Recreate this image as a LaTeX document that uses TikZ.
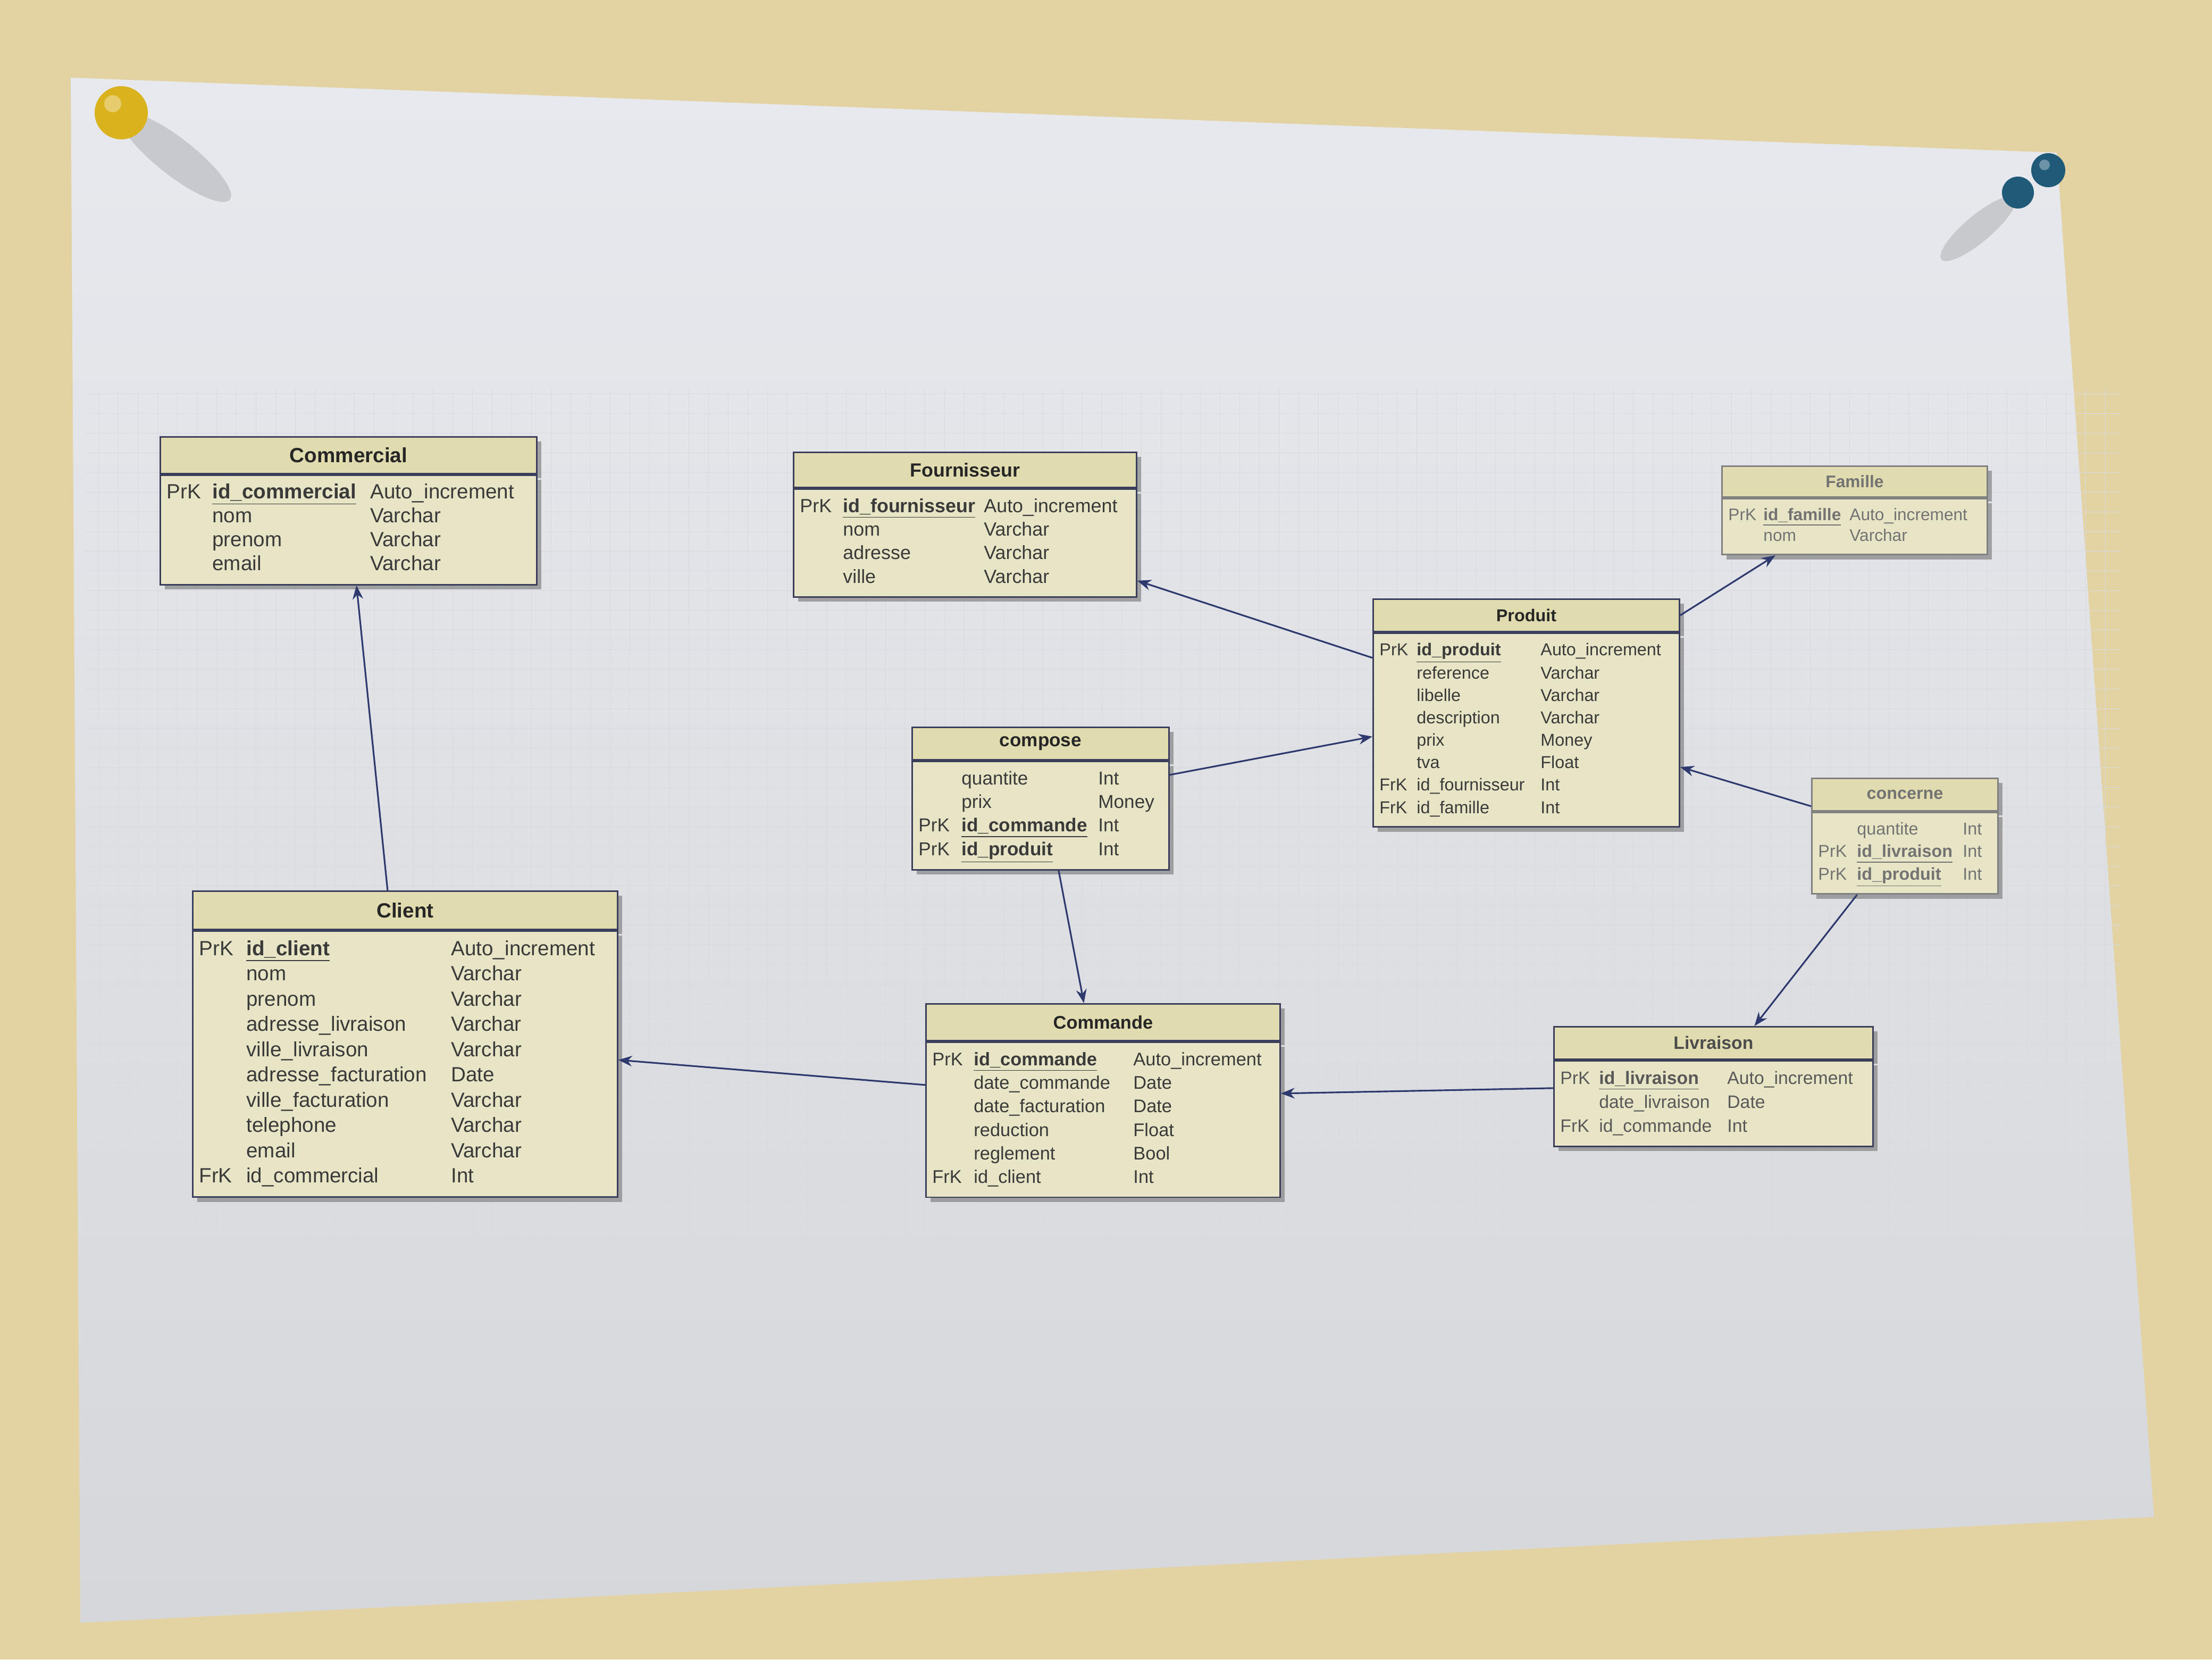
\documentclass[tikz,border=0pt]{standalone}
\usepackage{fontspec}
\setmainfont{Liberation Sans}
\usetikzlibrary{
  arrows.meta,
  positioning,
  shadows
}
\definecolor{wall}{HTML}{E3D2A2}
\definecolor{paperTop}{HTML}{E7E9EE}
\definecolor{paperBot}{HTML}{D6D7DA}
\definecolor{gridcol}{HTML}{D8DAE0}
\definecolor{erline}{HTML}{3B3F5C}
\definecolor{erfill}{HTML}{E8E5C6}
\definecolor{ertitle}{HTML}{E1DCB0}
\definecolor{ertext}{HTML}{3A3A3A}
\definecolor{relline}{HTML}{2E3A6E}
\definecolor{tackYellow}{HTML}{D9B21E}
\definecolor{tackBlue}{HTML}{1F5A78}
\newcommand{\keyname}[1]{\underline{\textbf{#1}}}
\setlength{\tabcolsep}{0pt}
\tikzset{
  erdrop/.style={drop shadow={shadow xshift=0.9mm, shadow yshift=-0.9mm, fill=black!55, opacity=0.6}},
  ttl/.style n args={3}{
    draw=erline, fill=ertitle, line width=0.8pt,
    text width=#1, align=center, inner xsep=1.2mm, inner ysep=0pt,
    minimum height=#3, anchor=north west,
    font=\fontsize{#2}{#2}\selectfont\bfseries, text=black!85, erdrop
  },
  tbody/.style n args={3}{
    draw=erline, fill=erfill, line width=0.8pt,
    text width=#1, align=left, inner xsep=1.2mm, inner ysep=1.3mm,
    font=\fontsize{#2}{#3}\selectfont, text=ertext, erdrop
  },
  faded/.style={draw=black!50, text=black!55},
  rel/.style={-{Stealth[length=2.6mm, width=2mm]}, draw=relline, line width=0.9pt},
  gridline/.style={draw=gridcol, line width=0.25pt, step=0.37},
}

\begin{document}
\begin{tikzpicture}

\useasboundingbox (0,0) rectangle (41.6,-31.2);

% wall, sheet and its grid
\fill[wall] (0,0) rectangle (41.6,-31.2);
\shade[top color=paperTop, bottom color=paperBot]
  (1.33,-1.46) -- (38.68,-2.87) -- (40.51,-28.52) -- (1.51,-30.51) -- cycle;
\begin{scope}
  \clip (1.6,-7.3) rectangle (39.9,-26.4);
  \draw[gridline] (1.6,-26.4) grid (39.9,-7.3);
\end{scope}

% tacks
\fill[black, opacity=0.13, rotate around={-38:(3.3,-2.95)}] (3.3,-2.95) ellipse (1.3 and 0.35);
\fill[tackYellow] (2.28,-2.12) circle (0.5);
\fill[white, opacity=0.35] (2.12,-1.95) circle (0.16);
\fill[black, opacity=0.13, rotate around={40:(37.2,-4.3)}] (37.2,-4.3) ellipse (0.9 and 0.25);
\fill[tackBlue] (37.95,-3.62) circle (0.3);
\fill[tackBlue] (38.52,-3.2) circle (0.32);
\fill[white, opacity=0.35] (38.45,-3.1) circle (0.1);

% tables
\node[ttl={6.84cm}{11}{0.69cm}] (commercial) at (3.00,-8.20) {Commercial};
\node[tbody={6.84cm}{11}{12.8}, below=0pt of commercial] (commercial-b) {%
  \begin{tabular}{p{0.86cm}p{2.97cm}l}
  PrK & \keyname{id\_commercial} & Auto\_increment\\
      & nom & Varchar\\
      & prenom & Varchar\\
      & email & Varchar
  \end{tabular}};

\node[ttl={6.21cm}{10.2}{0.66cm}] (fournisseur) at (14.91,-8.49) {Fournisseur};
\node[tbody={6.21cm}{10.2}{12.6}, below=0pt of fournisseur] (fournisseur-b) {%
  \begin{tabular}{p{0.81cm}p{2.65cm}l}
  PrK & \keyname{id\_fournisseur} & Auto\_increment\\
      & nom & Varchar\\
      & adresse & Varchar\\
      & ville & Varchar
  \end{tabular}};

\node[ttl={4.75cm}{9}{0.58cm}, faded] (famille) at (32.37,-8.75) {Famille};
\node[tbody={4.75cm}{9}{11.3}, faded, below=0pt of famille] (famille-b) {%
  \begin{tabular}{p{0.66cm}p{1.62cm}l}
  PrK & \keyname{id\_famille} & Auto\_increment\\
      & nom & Varchar
  \end{tabular}};

\node[ttl={5.52cm}{9.2}{0.61cm}] (produit) at (25.81,-11.25) {Produit};
\node[tbody={5.52cm}{9.2}{12}, below=0pt of produit] (produit-b) {%
  \begin{tabular}{p{0.70cm}p{2.33cm}l}
  PrK & \keyname{id\_produit} & Auto\_increment\\
      & reference & Varchar\\
      & libelle & Varchar\\
      & description & Varchar\\
      & prix & Money\\
      & tva & Float\\
  FrK & id\_fournisseur & Int\\
  FrK & id\_famille & Int
  \end{tabular}};

\node[ttl={4.59cm}{10}{0.61cm}] (compose) at (17.14,-13.66) {compose};
\node[tbody={4.59cm}{10}{12.6}, below=0pt of compose] (compose-b) {%
  \begin{tabular}{p{0.81cm}p{2.57cm}l}
      & quantite & Int\\
      & prix & Money\\
  PrK & \keyname{id\_commande} & Int\\
  PrK & \keyname{id\_produit} & Int
  \end{tabular}};

\node[ttl={3.26cm}{9.2}{0.61cm}, faded] (concerne) at (34.06,-14.62) {concerne};
\node[tbody={3.26cm}{9.2}{12}, faded, below=0pt of concerne] (concerne-b) {%
  \begin{tabular}{p{0.73cm}p{1.99cm}l}
      & quantite & Int\\
  PrK & \keyname{id\_livraison} & Int\\
  PrK & \keyname{id\_produit} & Int
  \end{tabular}};

\node[ttl={7.75cm}{11}{0.72cm}] (client) at (3.61,-16.74) {Client};
\node[tbody={7.75cm}{11}{13.5}, below=0pt of client] (client-b) {%
  \begin{tabular}{p{0.89cm}p{3.85cm}l}
  PrK & \keyname{id\_client} & Auto\_increment\\
      & nom & Varchar\\
      & prenom & Varchar\\
      & adresse\_livraison & Varchar\\
      & ville\_livraison & Varchar\\
      & adresse\_facturation & Date\\
      & ville\_facturation & Varchar\\
      & telephone & Varchar\\
      & email & Varchar\\
  FrK & id\_commercial & Int
  \end{tabular}};

\node[ttl={6.42cm}{9.8}{0.69cm}] (commande) at (17.40,-18.86) {Commande};
\node[tbody={6.42cm}{9.8}{12.6}, below=0pt of commande] (commande-b) {%
  \begin{tabular}{p{0.78cm}p{3.0cm}l}
  PrK & \keyname{id\_commande} & Auto\_increment\\
      & date\_commande & Date\\
      & date\_facturation & Date\\
      & reduction & Float\\
      & reglement & Bool\\
  FrK & id\_client & Int
  \end{tabular}};

\node[ttl={5.76cm}{9.6}{0.61cm}, text=black!70] (livraison) at (29.21,-19.29) {Livraison};
\node[tbody={5.76cm}{9.6}{12.8}, text=black!65, below=0pt of livraison] (livraison-b) {%
  \begin{tabular}{p{0.73cm}p{2.41cm}l}
  PrK & \keyname{id\_livraison} & Auto\_increment\\
      & date\_livraison & Date\\
  FrK & id\_commande & Int
  \end{tabular}};

% relations
\draw[rel] ([xshift=-0.33cm]client.north) -- ([xshift=0.15cm]commercial-b.south);
\draw[rel] ([yshift=-0.48cm]produit-b.north west) -- ([yshift=0.32cm]fournisseur-b.south east);
\draw[rel] (produit.east) -- ([xshift=-1.49cm]famille-b.south);
\draw[rel] ([yshift=-0.27cm]compose-b.north east) -- ([yshift=-1.96cm]produit-b.north west);
\draw[rel] ([xshift=0.34cm]compose-b.south) -- ([xshift=-0.36cm]commande.north);
\draw[rel] ([yshift=0.1cm]concerne.south west) -- ([yshift=1.14cm]produit-b.south east);
\draw[rel] ([xshift=-0.9cm]concerne-b.south) -- ([xshift=0.77cm]livraison.north);
\draw[rel] ([yshift=-0.82cm]commande-b.north west) -- ([yshift=-2.44cm]client-b.north east);
\draw[rel] ([yshift=-0.53cm]livraison-b.north west) -- ([yshift=-0.98cm]commande-b.north east);

\end{tikzpicture}
\end{document}
